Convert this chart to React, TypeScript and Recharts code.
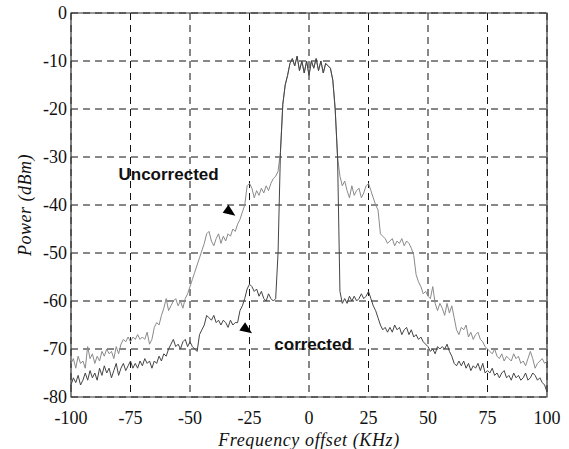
import React from 'react';
import { LineChart, Line, XAxis, YAxis, CartesianGrid, ReferenceArea, ReferenceDot } from 'recharts';

const freqs = [
  -100, -99, -98, -97, -96, -95, -94, -93, -92, -91,
  -90, -89, -88, -87, -86, -85, -84, -83, -82, -81,
  -80, -79, -78, -77, -76, -75, -74, -73, -72, -71,
  -70, -69, -68, -67, -66, -65, -64, -63, -62, -61,
  -60, -59, -58, -57, -56, -55, -54, -53, -52, -51,
  -50, -49, -48, -47, -46, -45, -44, -43, -42, -41,
  -40, -39, -38, -37, -36, -35, -34, -33, -32, -31,
  -30, -29, -28, -27, -26, -25, -24, -23, -22, -21,
  -20, -19, -18, -17, -16, -15, -14, -13, -12, -11,
  -10, -9, -8, -7, -6, -5, -4, -3, -2, -1,
  0, 1, 2, 3, 4, 5, 6, 7, 8, 9,
  10, 11, 12, 13, 14, 15, 16, 17, 18, 19,
  20, 21, 22, 23, 24, 25, 26, 27, 28, 29,
  30, 31, 32, 33, 34, 35, 36, 37, 38, 39,
  40, 41, 42, 43, 44, 45, 46, 47, 48, 49,
  50, 51, 52, 53, 54, 55, 56, 57, 58, 59,
  60, 61, 62, 63, 64, 65, 66, 67, 68, 69,
  70, 71, 72, 73, 74, 75, 76, 77, 78, 79,
  80, 81, 82, 83, 84, 85, 86, 87, 88, 89,
  90, 91, 92, 93, 94, 95, 96, 97, 98, 99,
  100,
];

const uncorrected = [
  -73, -72, -74, -71.5, -73, -72.5, -74, -69.5, -72, -71,
  -73, -71.5, -72.5, -70.5, -71.5, -70, -71, -70.5, -72, -69.5,
  -71, -69, -68, -68.5, -67.5, -68.5, -67.5, -68, -67, -68,
  -67.5, -68, -66.5, -69, -68, -65.5, -64.5, -65, -63, -61.5,
  -59.5, -62, -61, -60, -59.5, -61, -60, -61.5, -59.5, -58.5,
  -57, -55.5, -54, -52.5, -51, -49.5, -48, -46, -45.5, -47.5,
  -48.5, -47, -46, -48, -46.5, -47.5, -46, -46.5, -45, -45.5,
  -44, -43, -41.5, -40, -36, -35.5, -36.5, -38.5, -37, -38,
  -36.5, -37.5, -36, -37, -35.5, -34.5, -34, -33, -29, -19,
  -15, -13, -10.5, -9.5, -11, -9, -12, -10, -12.5, -10,
  -13, -10, -11.5, -9.5, -12, -10, -12.5, -10.5, -11, -11.5,
  -14, -20, -30, -34, -36, -35, -37, -38.5, -36, -38,
  -37, -36.5, -38.5, -37.5, -36, -35.5, -37, -38.5, -40, -41,
  -46, -46.5, -47, -48, -47.5, -47, -48.5, -47.5, -48, -47,
  -48.5, -47.5, -48, -49, -50.5, -54.5, -56, -57, -58.5, -58,
  -59, -59.5, -57, -60.5, -62, -60.5, -61.5, -63, -60.5, -62.5,
  -61, -63.5, -66, -67, -65.5, -66, -65, -67.5, -66.5, -68,
  -67, -66.5, -68, -68.5, -69.5, -70, -70.5, -71, -70, -71.5,
  -72, -71, -72.5, -71.5, -72, -72.5, -71, -72, -71.5, -73,
  -72.5, -73.5, -72, -70.5, -72, -74, -73, -72.5, -72, -73,
  -72.5,
];

const corrected = [
  -77.5, -76, -77, -75.5, -77.5, -76.5, -75, -76.5, -74.5, -76,
  -75, -76.5, -74, -75.5, -73.5, -75, -74, -76, -74.5, -73,
  -75.5, -74, -73, -74.5, -73.5, -72.5, -74, -73, -74, -72.5,
  -73.5, -72, -73, -72.5, -74, -72.5, -73, -71.5, -72.5, -71,
  -71.5, -70, -69, -68, -69.5, -69, -70, -68.5, -68, -69.5,
  -68.5, -69.5, -70, -70.5, -67, -66, -65, -63, -63.5, -64,
  -63, -64.5, -64, -65, -64, -64.5, -65.5, -64, -65, -64.5,
  -64.5, -62, -61, -59.5, -57.5, -56.5, -57, -58, -57.5, -59,
  -58, -59.5, -60, -58.5, -59.5, -60, -59.5, -50, -29, -19,
  -15, -13, -10.5, -9.5, -11, -9, -12, -10, -12.5, -10,
  -13, -10, -11.5, -9.5, -12, -10, -12.5, -10.5, -11, -11.5,
  -14, -20, -30, -58, -60.5, -59.5, -60.5, -59, -60, -59,
  -60, -59.5, -58.5, -59.5, -59, -58, -59.5, -61, -62, -63.5,
  -65, -66, -65.5, -66.5, -65.5, -66.5, -65, -66, -65.5, -67,
  -66, -65.5, -67, -66, -67.5, -67, -68, -67.5, -68.5, -69,
  -69.5, -70.5, -70, -71, -69.5, -70, -69.5, -70, -69, -70.5,
  -71.5, -73, -73.5, -72.5, -73.5, -72.5, -74, -73, -74.5, -73.5,
  -74, -73, -74.5, -73, -75, -74.5, -75, -74, -75.5, -75,
  -76, -75, -74.5, -76, -75.5, -76.5, -75, -76, -75.5, -76.5,
  -76, -75, -76.5, -76, -75, -75.5, -76.5, -76, -77, -77.5,
  -79,
];

const xTicks = [-100, -75, -50, -25, 0, 25, 50, 75, 100];
const yTicks = [-80, -70, -60, -50, -40, -30, -20, -10, 0];

const data = freqs.map((f, i) => ({ f, u: uncorrected[i], c: corrected[i] }));

const serif = 'Liberation Serif, Times New Roman, DejaVu Serif, serif';
const sans = 'Liberation Sans, Arial, sans-serif';

const arrowShape = (angle: number) => (props: any) => {
  const { cx, cy } = props;
  return (
    <polygon
      points="-6,-5 6,0 -6,5"
      fill="#000"
      transform={`translate(${cx},${cy}) rotate(${angle})`}
    />
  );
};

const YTitle = (props: any) => {
  const vb = props.viewBox || {};
  const cy = vb.y + vb.height / 2;
  const x = 25;
  return (
    <text
      x={x}
      y={cy}
      transform={`rotate(-90, ${x}, ${cy})`}
      textAnchor="middle"
      dominantBaseline="central"
      style={{ fontFamily: serif, fontStyle: 'italic', fontSize: 18, fill: '#111', letterSpacing: 0.5 }}
    >
      Power (dBm)
    </text>
  );
};

export default function App() {
  return (
    <div style={{ position: 'absolute', left: 0, top: 0, width: 569, height: 449, background: '#fff', fontFamily: serif }}>
      <LineChart width={569} height={449} data={data} margin={{ top: 13, right: 22, bottom: 0, left: 0 }}>
        <CartesianGrid stroke="#111" strokeDasharray="7 5" strokeWidth={1} horizontalValues={yTicks} verticalValues={xTicks} />
        <XAxis
          dataKey="f"
          type="number"
          domain={[-100, 100]}
          ticks={xTicks}
          height={52}
          tickLine={false}
          tickSize={0}
          tickMargin={14}
          axisLine={false}
          tick={{ fontSize: 18, fill: '#111', style: { fontFamily: serif } }}
          label={{ value: 'Frequency offset (KHz)', position: 'insideBottom', offset: 3, style: { fontFamily: serif, fontStyle: 'italic', fontSize: 18, fill: '#111', letterSpacing: 0.6 } }}
        />
        <YAxis
          type="number"
          domain={[-80, 0]}
          ticks={yTicks}
          width={71}
          tickLine={false}
          tickSize={0}
          tickMargin={4}
          axisLine={false}
          tick={{ fontSize: 18, fill: '#111', style: { fontFamily: serif } }}
          label={<YTitle />}
        />
        <ReferenceArea x1={-100} x2={100} y1={-80} y2={0} fill="none" stroke="#333" strokeWidth={1.2} />
        <Line dataKey="u" stroke="#8a8a8a" strokeWidth={1} dot={false} isAnimationActive={false} />
        <Line dataKey="c" stroke="#444" strokeWidth={1} dot={false} isAnimationActive={false} />
        <ReferenceDot
          x={-59}
          y={-33.5}
          r={0}
          label={{ value: 'Uncorrected', position: 'center', style: { fontFamily: sans, fontWeight: 'bold', fontSize: 17, fill: '#111' } }}
        />
        <ReferenceDot
          x={1.7}
          y={-69}
          r={0}
          label={{ value: 'corrected', position: 'center', style: { fontFamily: sans, fontWeight: 'bold', fontSize: 17, fill: '#111' } }}
        />
        <ReferenceDot x={-33} y={-41.5} shape={arrowShape(35)} />
        <ReferenceDot x={-26} y={-66} shape={arrowShape(35)} />
      </LineChart>
    </div>
  );
}
